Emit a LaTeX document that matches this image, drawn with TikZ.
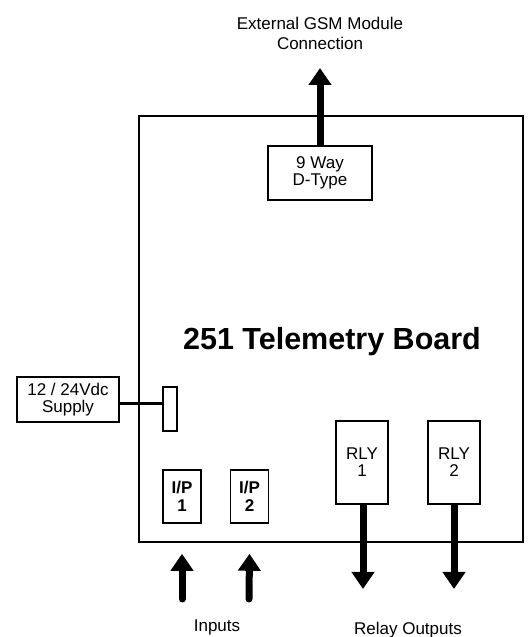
\documentclass[tikz,border=0pt]{standalone}
\usepackage{fontspec}
\setmainfont{Liberation Sans}
\usetikzlibrary{arrows.meta,positioning,calc}

\begin{document}
\begin{tikzpicture}[x=1pt, y=1pt,
    box/.style={draw, line width=1.6pt, inner sep=0pt, align=center,
      font=\fontsize{17}{17}\selectfont},
    bigarrow/.style={line width=7pt, line cap=round,
      -{Triangle[width=22pt,length=17pt]}},
    wire/.style={line width=3pt},
    lbl/.style={align=center, inner sep=0pt, font=\fontsize{17}{20}\selectfont}]
    \useasboundingbox (0,0) rectangle (528,637);

    % the board itself
    \draw[line width=1.8pt] (139,95) rectangle (523,521);
    \node[font=\fontsize{30.5}{36}\selectfont\bfseries] (title) at (332,295) {251 Telemetry Board};

    % GSM connector at the top
    \node[box, minimum width=104pt, minimum height=54pt] (dtype) at (320,464) {9 Way\\D-Type};
    \node[lbl] (gsm) at (320,604) {External GSM Module\\Connection};
    \coordinate (gsmtip) at (320,569);
    \draw[bigarrow, line cap=butt] (dtype.north) -- (gsmtip);

    % power supply and its terminal
    \node[box, minimum width=102pt, minimum height=45pt] (supply) at (68,237.5) {12 / 24Vdc\\Supply};
    \node[draw, line width=1.6pt, minimum width=14pt, minimum height=44pt, inner sep=0pt] (conn) at (170,228) {};
    \draw[wire] ([yshift=-4.5pt]supply.east) -- ([yshift=-4.5pt]supply.east -| conn.west);

    % inputs
    \node[box, font=\fontsize{17}{18}\selectfont\bfseries, minimum width=38pt, minimum height=53pt] (ip1) at (182,140.5) {I/P\\1};
    \node[box, font=\fontsize{17}{18}\selectfont\bfseries, minimum width=38pt, minimum height=53pt] (ip2) at (249.5,140.5) {I/P\\2};
    \coordinate (in1) at (182,38);
    \coordinate (in2) at (249,38);
    \draw[bigarrow] (in1) -- ([yshift=-30pt]ip1.south);
    \draw[bigarrow] (in2) -- ([yshift=-30pt]ip2.south);
    \node[lbl] (inputs) at (217,10) {Inputs};

    % relay outputs
    \node[box, minimum width=52pt, minimum height=83pt] (rly1) at (362,174.5) {RLY\\1};
    \node[box, minimum width=52pt, minimum height=83pt] (rly2) at (454,174.5) {RLY\\2};
    \coordinate (out1) at (363,48);
    \coordinate (out2) at (454,48);
    \draw[bigarrow, line cap=butt] (rly1.south -| out1) -- (out1);
    \draw[bigarrow, line cap=butt] (rly2.south) -- (out2);
    \node[lbl] (relays) at (408,7) {Relay Outputs};
\end{tikzpicture}
\end{document}
